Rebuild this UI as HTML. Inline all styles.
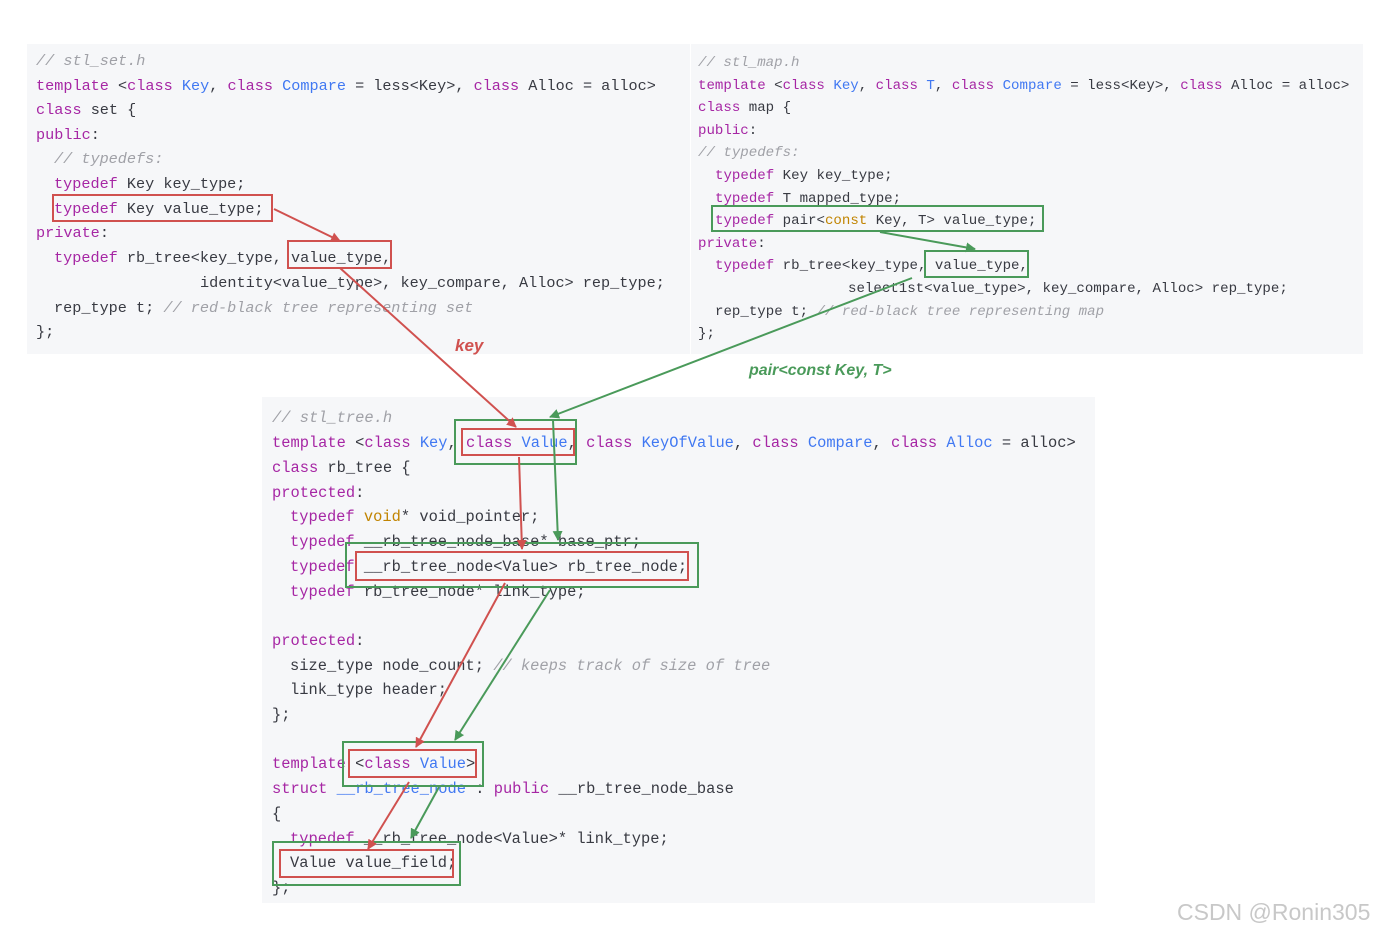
<!DOCTYPE html>
<html><head><meta charset="utf-8">
<style>
html,body{margin:0;padding:0;background:#fff;}
svg{display:block;}
.c{font-family:"Liberation Mono",monospace;fill:#383a42;white-space:pre;}
.k{fill:#a626a4;}
.b{fill:#4078f2;}
.g{fill:#a0a1a7;font-style:italic;}
.y{fill:#c18401;}
</style></head><body>
<svg width="1395" height="934" viewBox="0 0 1395 934" xmlns="http://www.w3.org/2000/svg">
<defs>
<marker id="ar" markerWidth="10" markerHeight="10" refX="9" refY="5" orient="auto" markerUnits="userSpaceOnUse"><path d="M0,0 L10,5 L0,10 z" fill="#d0514f"/></marker>
<marker id="ag" markerWidth="10" markerHeight="10" refX="9" refY="5" orient="auto" markerUnits="userSpaceOnUse"><path d="M0,0 L10,5 L0,10 z" fill="#4a9a5a"/></marker>
</defs>
<rect x="27" y="44" width="663" height="310" fill="#f6f7f9"/>
<rect x="691" y="44" width="672" height="310" fill="#f6f7f9"/>
<rect x="262" y="397" width="833" height="506" fill="#f6f7f9"/>

<!-- left panel -->
<g class="c" font-size="15.2" xml:space="preserve">
<text x="36" y="65" class="g">// stl_set.h</text>
<text x="36" y="90"><tspan class="k">template</tspan> &lt;<tspan class="k">class</tspan> <tspan class="b">Key</tspan>, <tspan class="k">class</tspan> <tspan class="b">Compare</tspan> = less&lt;Key&gt;, <tspan class="k">class</tspan> Alloc = alloc&gt;</text>
<text x="36" y="114"><tspan class="k">class</tspan> set {</text>
<text x="36" y="139"><tspan class="k">public</tspan>:</text>
<text x="54" y="163" class="g">// typedefs:</text>
<text x="54" y="188"><tspan class="k">typedef</tspan> Key key_type;</text>
<text x="54" y="213"><tspan class="k">typedef</tspan> Key value_type;</text>
<text x="36" y="237"><tspan class="k">private</tspan>:</text>
<text x="54" y="262"><tspan class="k">typedef</tspan> rb_tree&lt;key_type, value_type,</text>
<text x="200" y="287">identity&lt;value_type&gt;, key_compare, Alloc&gt; rep_type;</text>
<text x="54" y="312">rep_type t;  <tspan class="g">// red-black tree representing set</tspan></text>
<text x="36" y="336">};</text>
</g>

<!-- right panel -->
<g class="c" font-size="14.1" xml:space="preserve">
<text x="698" y="66" class="g">// stl_map.h</text>
<text x="698" y="89"><tspan class="k">template</tspan> &lt;<tspan class="k">class</tspan> <tspan class="b">Key</tspan>, <tspan class="k">class</tspan> <tspan class="b">T</tspan>, <tspan class="k">class</tspan> <tspan class="b">Compare</tspan> = less&lt;Key&gt;, <tspan class="k">class</tspan> Alloc = alloc&gt;</text>
<text x="698" y="111"><tspan class="k">class</tspan> map {</text>
<text x="698" y="134"><tspan class="k">public</tspan>:</text>
<text x="698" y="156" class="g">// typedefs:</text>
<text x="715" y="179"><tspan class="k">typedef</tspan> Key key_type;</text>
<text x="715" y="202"><tspan class="k">typedef</tspan> T mapped_type;</text>
<text x="715" y="224"><tspan class="k">typedef</tspan> pair&lt;<tspan class="y">const</tspan> Key, T&gt; value_type;</text>
<text x="698" y="247"><tspan class="k">private</tspan>:</text>
<text x="715" y="269"><tspan class="k">typedef</tspan> rb_tree&lt;key_type, value_type,</text>
<text x="848" y="292">select1st&lt;value_type&gt;, key_compare, Alloc&gt; rep_type;</text>
<text x="715" y="315">rep_type t;  <tspan class="g">// red-black tree representing map</tspan></text>
<text x="698" y="337">};</text>
</g>

<!-- bottom panel -->
<g class="c" font-size="15.4" xml:space="preserve">
<text x="272" y="422" class="g">// stl_tree.h</text>
<text x="272" y="447"><tspan class="k">template</tspan> &lt;<tspan class="k">class</tspan> <tspan class="b">Key</tspan>, <tspan class="k">class</tspan> <tspan class="b">Value</tspan>, <tspan class="k">class</tspan> <tspan class="b">KeyOfValue</tspan>, <tspan class="k">class</tspan> <tspan class="b">Compare</tspan>, <tspan class="k">class</tspan> <tspan class="b">Alloc</tspan> = alloc&gt;</text>
<text x="272" y="472"><tspan class="k">class</tspan> rb_tree {</text>
<text x="272" y="497"><tspan class="k">protected</tspan>:</text>
<text x="290" y="521"><tspan class="k">typedef</tspan> <tspan class="y">void</tspan>* void_pointer;</text>
<text x="290" y="546"><tspan class="k">typedef</tspan> __rb_tree_node_base* base_ptr;</text>
<text x="290" y="571"><tspan class="k">typedef</tspan> __rb_tree_node&lt;Value&gt; rb_tree_node;</text>
<text x="290" y="596"><tspan class="k">typedef</tspan> rb_tree_node* link_type;</text>
<text x="272" y="645"><tspan class="k">protected</tspan>:</text>
<text x="290" y="670">size_type node_count; <tspan class="g">// keeps track of size of tree</tspan></text>
<text x="290" y="694">link_type header;</text>
<text x="272" y="719">};</text>
<text x="272" y="768"><tspan class="k">template</tspan> &lt;<tspan class="k">class</tspan> <tspan class="b">Value</tspan>&gt;</text>
<text x="272" y="793"><tspan class="k">struct</tspan> <tspan class="b">__rb_tree_node</tspan> : <tspan class="k">public</tspan> __rb_tree_node_base</text>
<text x="272" y="818">{</text>
<text x="290" y="843"><tspan class="k">typedef</tspan> __rb_tree_node&lt;Value&gt;* link_type;</text>
<text x="290" y="867">Value value_field;</text>
<text x="272" y="892">};</text>
</g>

<!-- boxes -->
<g fill="none" stroke-width="2">
<rect x="53" y="195" width="219" height="26" stroke="#d0514f"/>
<rect x="288" y="241" width="103" height="27" stroke="#d0514f"/>
<rect x="712" y="206" width="331" height="25" stroke="#4a9a5a"/>
<rect x="925" y="251" width="103" height="26" stroke="#4a9a5a"/>
<rect x="455" y="420" width="121" height="44" stroke="#4a9a5a"/>
<rect x="462" y="429" width="112" height="26" stroke="#d0514f"/>
<rect x="346" y="543" width="352" height="44" stroke="#4a9a5a"/>
<rect x="356" y="552" width="332" height="28" stroke="#d0514f"/>
<rect x="343" y="742" width="140" height="44" stroke="#4a9a5a"/>
<rect x="349" y="750" width="127" height="27" stroke="#d0514f"/>
<rect x="273" y="842" width="187" height="43" stroke="#4a9a5a"/>
<rect x="280" y="850" width="173" height="27" stroke="#d0514f"/>
</g>

<!-- arrows -->
<g stroke-width="2" fill="none">
<line x1="274" y1="209" x2="340" y2="241" stroke="#d0514f" marker-end="url(#ar)"/>
<line x1="340" y1="268" x2="516" y2="427" stroke="#d0514f" marker-end="url(#ar)"/>
<line x1="519" y1="457" x2="522" y2="549" stroke="#d0514f" marker-end="url(#ar)"/>
<line x1="505" y1="583" x2="416" y2="747" stroke="#d0514f" marker-end="url(#ar)"/>
<line x1="409" y1="782" x2="368" y2="849" stroke="#d0514f" marker-end="url(#ar)"/>
<line x1="880" y1="232" x2="975" y2="249" stroke="#4a9a5a" marker-end="url(#ag)"/>
<line x1="912" y1="278" x2="550" y2="417" stroke="#4a9a5a" marker-end="url(#ag)"/>
<line x1="553" y1="420" x2="558" y2="540" stroke="#4a9a5a" marker-end="url(#ag)"/>
<line x1="550" y1="590" x2="455" y2="740" stroke="#4a9a5a" marker-end="url(#ag)"/>
<line x1="439" y1="787" x2="411" y2="838" stroke="#4a9a5a" marker-end="url(#ag)"/>
</g>

<text x="455" y="351" font-family="Liberation Sans, sans-serif" font-size="17" font-weight="bold" font-style="italic" fill="#d0514f">key</text>
<text x="749" y="375" font-family="Liberation Sans, sans-serif" font-size="16" font-weight="bold" font-style="italic" fill="#4a9a5a">pair&lt;const Key, T&gt;</text>
<text x="1177" y="920" font-family="Liberation Sans, sans-serif" font-size="23" fill="#c8c8c8">CSDN @Ronin305</text>
</svg>
</body></html>
